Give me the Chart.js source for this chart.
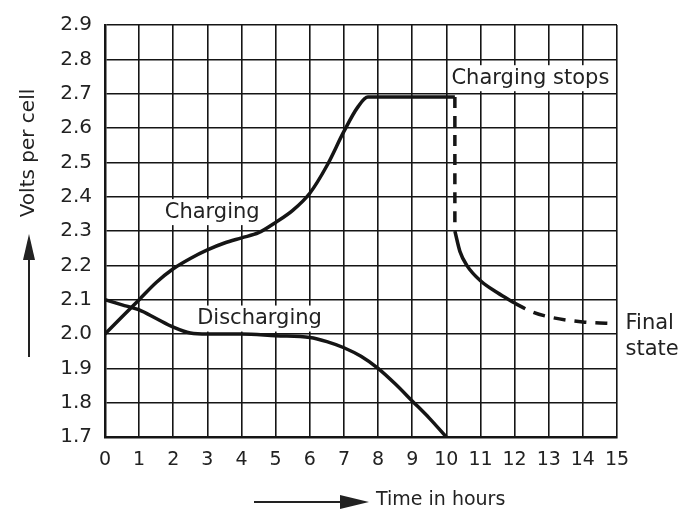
<!DOCTYPE html>
<html>
<head>
<meta charset="utf-8">
<script src="https://cdn.jsdelivr.net/npm/chart.js@4"></script>
<style>
  html, body { margin: 0; padding: 0; background: #fff; }
  #wrap { width: 679px; height: 513px; }
</style>
</head>
<body>
<div id="wrap"><canvas id="cellChart"></canvas></div>
<script>
// Data
const xTicks = [0, 1, 2, 3, 4, 5, 6, 7, 8, 9, 10, 11, 12, 13, 14, 15];
const yTicks = [1.7, 1.8, 1.9, 2.0, 2.1, 2.2, 2.3, 2.4, 2.5, 2.6, 2.7, 2.8, 2.9];

// charging, solid part
const chargeHours = [0, 0.5, 1, 1.5, 2, 2.5, 3, 3.5, 4, 4.5, 5, 5.5, 6, 6.5, 7, 7.4, 7.7, 8, 9, 10.25];
const chargeVolts = [2.0, 2.05, 2.1, 2.15, 2.19, 2.22, 2.245, 2.265, 2.28, 2.295, 2.325, 2.36, 2.41, 2.49, 2.59, 2.66, 2.69, 2.69, 2.69, 2.69];

// charging stops (dashed drop)
const stopHours = [10.25, 10.25];
const stopVolts = [2.69, 2.3];

// settling after charge
const settleHours = [10.25, 10.4, 10.6, 11, 11.5, 12];
const settleVolts = [2.3, 2.24, 2.2, 2.155, 2.12, 2.09];

// towards final state (dashed)
const finalHours = [12, 12.5, 13, 14, 15];
const finalVolts = [2.09, 2.065, 2.05, 2.035, 2.03];

// discharging
const dischargeHours = [0, 0.5, 1, 1.5, 2, 2.5, 3, 4, 5, 6, 6.5, 7, 7.5, 8, 8.5, 9, 9.5, 10];
const dischargeVolts = [2.1, 2.085, 2.07, 2.045, 2.02, 2.003, 2.0, 2.0, 1.995, 1.99, 1.978, 1.96, 1.935, 1.9, 1.855, 1.805, 1.755, 1.7];

const labels = [
  { text: 'Charging', x: 1.75, y: 2.355, bg: true },
  { text: 'Discharging', x: 2.7, y: 2.045, bg: true },
  { text: 'Charging stops', x: 10.15, y: 2.745, bg: true },
  { text: 'Final', x: 15.25, y: 2.031, bg: false },
  { text: 'state', x: 15.25, y: 1.956, bg: false }
];

const pts = (xs, ys) => xs.map((x, i) => ({ x: x, y: ys[i] }));
const ink = '#151515';
const fontFam = '"DejaVu Sans", sans-serif';

function curve(xs, ys, dash) {
  return {
    data: pts(xs, ys),
    borderColor: ink,
    borderWidth: 3.5,
    borderDash: dash || [],
    pointRadius: 0,
    showLine: true,
    fill: false,
    cubicInterpolationMode: 'monotone'
  };
}

// notes, axis titles and arrows
const notes = {
  id: 'notes',
  beforeDatasetsDraw(chart) {
    const c = chart.ctx, xs = chart.scales.x, ys = chart.scales.y;
    c.save();
    c.font = '21px ' + fontFam;
    c.textBaseline = 'middle';
    c.textAlign = 'left';
    labels.forEach(l => {
      const px = xs.getPixelForValue(l.x), py = ys.getPixelForValue(l.y);
      const w = c.measureText(l.text).width;
      if (l.bg) {
        c.fillStyle = '#fff';
        c.fillRect(px - 3, py - 13, w + 6, 26);
      }
      c.fillStyle = '#222';
      c.fillText(l.text, px, py);
    });
    c.restore();
  },
  afterDraw(chart) {
    const c = chart.ctx;
    c.save();
    c.fillStyle = '#222';
    c.strokeStyle = '#222';
    c.lineWidth = 2;
    // y title
    c.save();
    c.translate(29, 153);
    c.rotate(-Math.PI / 2);
    c.font = '20px ' + fontFam;
    c.textAlign = 'center';
    c.textBaseline = 'middle';
    c.fillText('Volts per cell', 0, 0);
    c.restore();
    // up arrow
    c.beginPath(); c.moveTo(29, 357); c.lineTo(29, 255); c.stroke();
    c.beginPath(); c.moveTo(29, 234); c.lineTo(23, 260); c.lineTo(35, 260); c.closePath(); c.fill();
    // x title
    c.font = '19px ' + fontFam;
    c.textAlign = 'left';
    c.textBaseline = 'middle';
    c.fillText('Time in hours', 376, 500);
    // right arrow
    c.beginPath(); c.moveTo(254, 502); c.lineTo(345, 502); c.stroke();
    c.beginPath(); c.moveTo(369, 502); c.lineTo(340, 495); c.lineTo(340, 509); c.closePath(); c.fill();
    c.restore();
  }
};

const ctx = document.getElementById('cellChart').getContext('2d');
new Chart(ctx, {
  type: 'scatter',
  data: {
    datasets: [
      curve(chargeHours, chargeVolts),
      curve(stopHours, stopVolts, [11, 8]),
      curve(settleHours, settleVolts),
      curve(finalHours, finalVolts, [12, 9]),
      curve(dischargeHours, dischargeVolts)
    ]
  },
  options: {
    responsive: true,
    maintainAspectRatio: false,
    animation: false,
    layout: { padding: { top: 20, right: 62, bottom: 0, left: 0 } },
    plugins: { legend: { display: false }, tooltip: { enabled: false } },
    scales: {
      x: {
        type: 'linear',
        min: 0,
        max: 15,
        afterBuildTicks: s => { s.ticks = xTicks.map(v => ({ value: v })); },
        afterFit: s => { s.height = 76; },
        grid: { color: ink, lineWidth: 1.6, drawTicks: false },
        border: { color: ink, width: 2.5 },
        ticks: { padding: 12, color: '#222', font: { family: fontFam, size: 19 }, maxRotation: 0 }
      },
      y: {
        type: 'linear',
        min: 1.7,
        max: 2.9,
        afterBuildTicks: s => { s.ticks = yTicks.map(v => ({ value: v })); },
        afterFit: s => { s.width = 105; },
        grid: { color: ink, lineWidth: 1.6, drawTicks: false },
        border: { color: ink, width: 2.5 },
        ticks: {
          padding: 13,
          color: '#222',
          font: { family: fontFam, size: 20 },
          callback: v => Number(v).toFixed(1)
        }
      }
    }
  },
  plugins: [notes]
});
</script>
</body>
</html>
